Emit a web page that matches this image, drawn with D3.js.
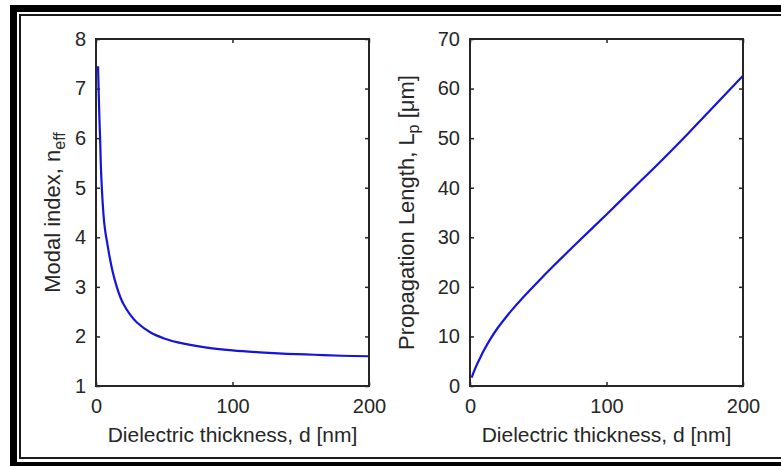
<!DOCTYPE html>
<html>
<head>
<meta charset="utf-8">
<script src="https://cdn.jsdelivr.net/npm/d3@7"></script>
<style>
  html, body { margin: 0; padding: 0; background: #fff; overflow: hidden; }
  svg text { font-family: 'Liberation Sans', Arial, sans-serif; fill: #262626; }
</style>
</head>
<body>
<div id="chart"></div>
<script>
// thickness d [nm] vs modal index n_eff
const dLeft = [1.5, 2, 2.5, 3, 3.5, 4, 5, 6, 7, 8, 10, 12, 15, 18, 20, 25, 30, 40, 50, 60, 80, 100, 120, 140, 160, 180, 200];
const nEff = [7.45, 6.9, 6.4, 6.0, 5.5, 5.15, 4.65, 4.3, 4.08, 3.92, 3.6, 3.33, 3.02, 2.78, 2.66, 2.44, 2.28, 2.08, 1.96, 1.88, 1.78, 1.72, 1.68, 1.65, 1.63, 1.61, 1.6];

// thickness d [nm] vs propagation length Lp [um]
const dRight = [1.2, 3, 5, 8, 10, 15, 20, 25, 30, 40, 50, 60, 80, 100, 120, 140, 160, 180, 200];
const lp = [1.7, 3.0, 4.3, 6.0, 7.1, 9.5, 11.6, 13.4, 15.1, 18.2, 21.1, 23.9, 29.3, 34.6, 40.0, 45.4, 51.0, 56.8, 62.6];

const xTicks = [0, 100, 200];
const leftYTicks = [1, 2, 3, 4, 5, 6, 7, 8];
const rightYTicks = [0, 10, 20, 30, 40, 50, 60, 70];

const W = 781, H = 466;
const svg = d3.select('#chart').append('svg')
    .attr('width', W)
    .attr('height', H);

svg.append('rect').attr('width', W).attr('height', H).attr('fill', '#fff');

// double frame (runs off the right edge like the original)
svg.append('rect')
    .attr('x', 13.5).attr('y', 8.5)
    .attr('width', 800).attr('height', 457)
    .attr('fill', 'none').attr('stroke', '#000').attr('stroke-width', 7);
svg.append('rect')
    .attr('x', 20).attr('y', 15)
    .attr('width', 790).attr('height', 443)
    .attr('fill', 'none').attr('stroke', '#1a1a1a').attr('stroke-width', 2);

function drawPanel(opts) {
    const { left, right, top, bottom, xs, ys, yDomain, yTicks, labelX, ylabel, sub, tail } = opts;
    const x = d3.scaleLinear().domain([0, 200]).range([left, right]);
    const y = d3.scaleLinear().domain(yDomain).range([bottom, top]);
    const g = svg.append('g');

    const tickCol = '#262626';
    g.append('g').attr('transform', `translate(0,${bottom})`)
        .call(d3.axisBottom(x).tickValues(xTicks).tickSize(-4).tickPadding(13).tickFormat(d3.format('d')))
        .call(a => a.select('.domain').remove());
    g.append('g').attr('transform', `translate(0,${top})`)
        .call(d3.axisTop(x).tickValues(xTicks).tickSize(-4).tickFormat(''))
        .call(a => a.select('.domain').remove());
    g.append('g').attr('transform', `translate(${left},0)`)
        .call(d3.axisLeft(y).tickValues(yTicks).tickSize(-4).tickPadding(10).tickFormat(d3.format('d')))
        .call(a => a.select('.domain').remove());
    g.append('g').attr('transform', `translate(${right},0)`)
        .call(d3.axisRight(y).tickValues(yTicks).tickSize(-4).tickFormat(''))
        .call(a => a.select('.domain').remove());

    g.selectAll('.tick line').attr('stroke', tickCol).attr('stroke-width', 1.5);
    g.selectAll('.tick text').style('font-size', '20px').attr('fill', tickCol);

    g.append('path')
        .datum(xs.map((d, i) => [d, ys[i]]))
        .attr('d', d3.line().x(d => x(d[0])).y(d => y(d[1])).curve(d3.curveCatmullRom.alpha(0.5)))
        .attr('fill', 'none')
        .attr('stroke', '#1414dc')
        .attr('stroke-width', 2.2);

    g.append('rect')
        .attr('x', left).attr('y', top)
        .attr('width', right - left).attr('height', bottom - top)
        .attr('fill', 'none').attr('stroke', tickCol).attr('stroke-width', 2);

    g.append('text')
        .attr('x', (left + right) / 2).attr('y', 442)
        .attr('text-anchor', 'middle')
        .style('font-size', '21px')
        .text('Dielectric thickness, d [nm]');

    const yl = g.append('text')
        .attr('transform', `translate(${labelX},${(top + bottom) / 2}) rotate(-90)`)
        .attr('text-anchor', 'middle')
        .style('font-size', '22px');
    yl.append('tspan').text(ylabel);
    yl.append('tspan').attr('dy', 5).style('font-size', '16px').text(sub);
    if (tail) yl.append('tspan').attr('dy', -5).text(tail);
}

drawPanel({
    left: 96, right: 369, top: 39, bottom: 386,
    xs: dLeft, ys: nEff, yDomain: [1, 8], yTicks: leftYTicks,
    labelX: 60, ylabel: 'Modal index, n', sub: 'eff'
});

drawPanel({
    left: 470, right: 743, top: 39, bottom: 386,
    xs: dRight, ys: lp, yDomain: [0, 70], yTicks: rightYTicks,
    labelX: 414, ylabel: 'Propagation Length, L', sub: 'p', tail: ' [\u03bcm]'
});
</script>
</body>
</html>
